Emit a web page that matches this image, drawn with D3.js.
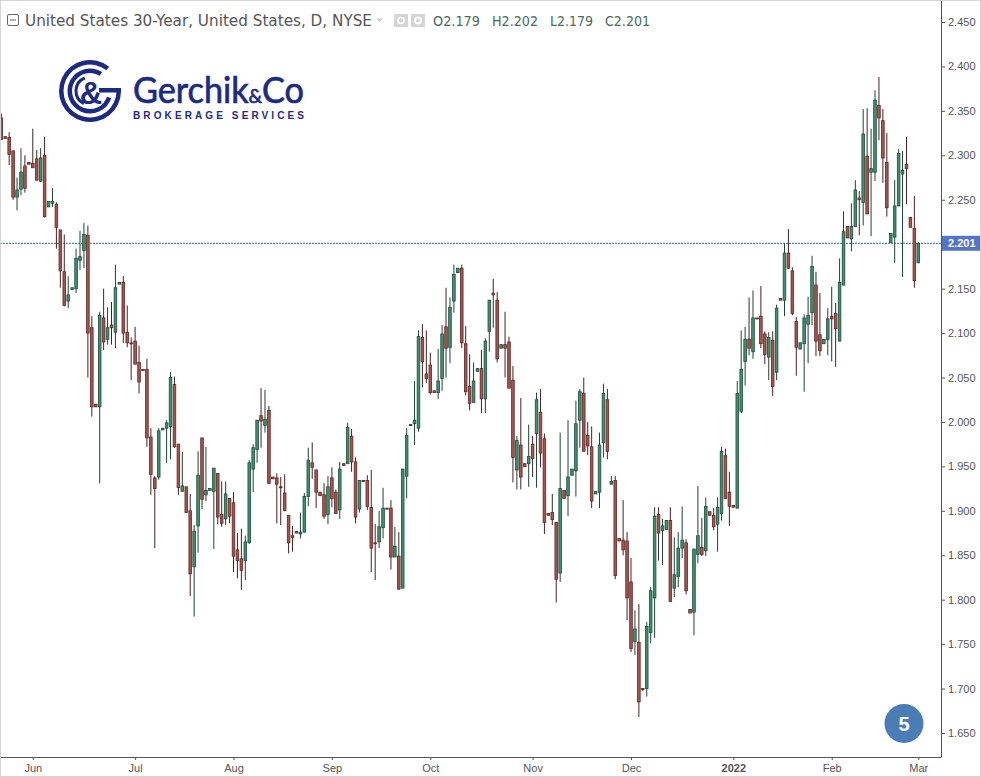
<!DOCTYPE html>
<html>
<head>
<meta charset="utf-8">
<script src="https://d3js.org/d3.v7.min.js"></script>
<style>
  html, body { margin: 0; padding: 0; background: #fff; }
  svg { display: block; }
  text { font-family: "Liberation Sans", Arial, sans-serif; }
</style>
</head>
<body>
<div id="chart"></div>
<script>
// daily candles
const opens = [
  2.342,2.321,2.320,2.305,2.253,2.262,2.288,2.292,2.291,2.296,
  2.271,2.300,2.242,2.246,2.245,2.216,2.169,2.136,2.149,2.150,
  2.182,2.193,2.210,2.106,2.020,2.017,2.117,2.093,2.109,2.101,
  2.155,2.157,2.101,2.089,2.091,2.067,2.059,2.059,1.983,1.937,
  1.938,1.991,1.993,1.995,2.042,1.975,1.922,1.927,1.900,1.837,
  1.883,1.982,1.918,1.923,1.922,1.942,1.896,1.891,1.914,1.909,
  1.856,1.846,1.844,1.864,1.947,1.969,2.007,1.996,2.013,1.938,
  1.937,1.927,1.920,1.895,1.872,1.877,1.874,1.876,1.916,1.954,
  1.946,1.921,1.918,1.896,1.937,1.921,1.901,1.953,1.953,1.984,
  1.955,1.902,1.934,1.934,1.904,1.864,1.865,1.881,1.903,1.903,
  1.848,1.849,1.813,1.939,1.997,1.998,1.993,2.095,2.054,2.064,
  2.035,2.033,2.049,2.107,2.084,2.136,2.168,2.173,2.088,2.040,
  2.022,2.057,2.060,2.026,2.102,2.145,2.137,2.083,2.087,2.090,
  2.047,1.946,1.974,1.953,1.953,1.975,1.987,2.011,1.981,1.897,
  1.898,1.887,1.830,1.923,1.917,1.940,1.945,2.002,2.032,1.985,
  1.972,1.919,1.921,1.977,2.025,1.930,1.934,1.869,1.867,1.866,
  1.820,1.753,1.752,1.700,1.700,1.763,1.802,1.896,1.878,1.879,
  1.889,1.813,1.826,1.858,1.864,1.789,1.786,1.851,1.859,1.855,
  1.899,1.895,1.885,1.897,1.962,1.921,1.906,1.903,2.012,2.068,
  2.093,2.079,2.117,2.119,2.099,2.073,2.092,2.056,2.139,2.137,
  2.190,2.170,2.113,2.082,2.088,2.110,2.123,2.154,2.098,2.088,
  2.093,2.119,2.122,2.091,2.154,2.220,2.206,2.220,2.252,2.247,
  2.299,2.281,2.281,2.356,2.339,2.292,2.202,2.208,2.243,2.279,
  2.290,2.230,2.218,2.179
];
const highs = [
  2.347,2.321,2.326,2.305,2.275,2.308,2.300,2.292,2.330,2.306,
  2.308,2.321,2.248,2.263,2.247,2.216,2.211,2.164,2.151,2.195,
  2.215,2.224,2.221,2.119,2.020,2.124,2.150,2.129,2.135,2.177,
  2.157,2.164,2.131,2.095,2.107,2.086,2.059,2.071,1.993,1.939,
  1.993,1.993,2.002,2.056,2.051,1.975,1.966,1.927,1.919,1.884,
  1.967,1.982,1.972,1.925,1.948,1.942,1.933,1.933,1.914,1.921,
  1.875,1.880,1.872,1.957,1.975,2.002,2.038,2.036,2.018,1.938,
  1.942,1.938,1.941,1.895,1.883,1.877,1.898,1.920,1.971,1.977,
  1.946,1.921,1.931,1.939,1.949,1.924,1.955,1.953,1.999,1.992,
  1.960,1.934,1.934,1.940,1.946,1.885,1.900,1.926,1.903,1.912,
  1.882,1.876,1.947,1.993,1.997,2.046,2.103,2.110,2.103,2.078,
  2.035,2.082,2.109,2.151,2.140,2.177,2.173,2.177,2.108,2.076,
  2.067,2.060,2.081,2.094,2.137,2.161,2.146,2.087,2.124,2.096,
  2.063,1.984,2.027,1.953,1.997,1.984,2.033,2.037,1.987,1.897,
  1.919,1.887,1.988,1.923,2.002,1.947,2.024,2.037,2.050,2.000,
  1.995,1.922,1.988,2.043,2.037,1.939,1.939,1.869,1.912,1.876,
  1.847,1.788,1.795,1.700,1.775,1.814,1.904,1.904,1.891,1.889,
  1.904,1.870,1.876,1.905,1.868,1.789,1.857,1.928,1.892,1.915,
  1.899,1.903,1.915,1.972,1.970,1.944,1.906,2.046,2.103,2.107,
  2.140,2.148,2.117,2.153,2.102,2.101,2.102,2.132,2.139,2.201,
  2.217,2.174,2.118,2.089,2.121,2.141,2.187,2.169,2.145,2.093,
  2.128,2.152,2.134,2.184,2.237,2.220,2.246,2.272,2.260,2.352,
  2.353,2.330,2.373,2.388,2.352,2.325,2.212,2.272,2.307,2.305,
  2.321,2.230,2.254,2.202
];
const lows = [
  2.318,2.319,2.289,2.250,2.238,2.255,2.258,2.290,2.286,2.272,
  2.270,2.230,2.242,2.242,2.195,2.151,2.130,2.128,2.149,2.145,
  2.171,2.173,2.050,2.006,2.017,1.931,2.081,2.087,2.087,2.083,
  2.155,2.089,2.084,2.047,2.065,2.032,2.058,1.972,1.918,1.858,
  1.935,1.991,1.954,1.958,1.971,1.918,1.922,1.898,1.804,1.781,
  1.853,1.902,1.911,1.923,1.857,1.885,1.882,1.884,1.886,1.831,
  1.824,1.811,1.822,1.863,1.921,1.954,1.971,1.988,1.930,1.936,
  1.886,1.884,1.900,1.852,1.854,1.875,1.869,1.876,1.905,1.936,
  1.903,1.917,1.891,1.885,1.904,1.897,1.891,1.951,1.953,1.944,
  1.886,1.898,1.933,1.901,1.831,1.822,1.858,1.869,1.902,1.834,
  1.848,1.811,1.813,1.914,1.996,1.974,1.989,2.039,2.044,2.031,
  2.033,2.026,2.035,2.050,2.066,2.123,2.168,2.083,2.030,2.013,
  2.022,2.057,2.010,2.010,2.079,2.106,2.067,2.083,2.050,2.038,
  1.932,1.924,1.924,1.950,1.927,1.938,1.926,1.949,1.874,1.895,
  1.884,1.797,1.820,1.914,1.894,1.940,1.916,1.971,1.967,1.963,
  1.903,1.919,1.903,1.960,1.958,1.930,1.823,1.866,1.850,1.777,
  1.741,1.738,1.668,1.697,1.691,1.751,1.757,1.844,1.839,1.879,
  1.798,1.803,1.814,1.847,1.806,1.785,1.760,1.841,1.849,1.849,
  1.895,1.878,1.854,1.889,1.914,1.883,1.904,1.903,2.010,2.041,
  2.075,2.071,2.116,2.083,2.065,2.047,2.029,2.047,2.137,2.119,
  2.172,2.120,2.052,2.082,2.034,2.066,2.109,2.074,2.074,2.088,
  2.075,2.068,2.062,2.091,2.154,2.207,2.192,2.220,2.210,2.221,
  2.234,2.209,2.271,2.317,2.269,2.231,2.202,2.179,2.243,2.163,
  2.245,2.219,2.151,2.179
];
const closes = [
  2.318,2.319,2.301,2.253,2.261,2.281,2.263,2.290,2.286,2.272,
  2.297,2.231,2.248,2.248,2.219,2.170,2.131,2.143,2.151,2.184,
  2.186,2.211,2.100,2.017,2.017,2.120,2.090,2.106,2.106,2.151,
  2.157,2.100,2.089,2.088,2.065,2.045,2.058,1.982,1.941,1.925,
  1.990,1.993,1.999,2.050,1.972,1.926,1.928,1.898,1.829,1.877,
  1.940,1.913,1.923,1.925,1.948,1.893,1.886,1.919,1.894,1.849,
  1.844,1.833,1.865,1.954,1.971,2.002,2.001,2.003,1.931,1.936,
  1.930,1.926,1.900,1.864,1.870,1.875,1.876,1.916,1.957,1.949,
  1.921,1.917,1.894,1.927,1.914,1.897,1.947,1.951,1.994,1.955,
  1.893,1.934,1.933,1.905,1.858,1.863,1.882,1.903,1.902,1.848,
  1.860,1.812,1.947,1.985,1.996,2.002,2.096,2.068,2.049,2.033,
  2.033,2.046,2.099,2.083,2.129,2.166,2.173,2.089,2.034,2.021,
  2.046,2.060,2.026,2.091,2.137,2.143,2.071,2.087,2.083,2.038,
  1.960,1.979,1.938,1.950,1.961,1.959,2.025,1.965,1.887,1.895,
  1.890,1.823,1.925,1.914,1.938,1.947,1.998,2.034,1.967,1.973,
  1.911,1.922,1.974,2.032,1.967,1.933,1.827,1.866,1.856,1.802,
  1.745,1.767,1.685,1.699,1.770,1.810,1.894,1.875,1.883,1.889,
  1.798,1.828,1.858,1.867,1.810,1.785,1.857,1.872,1.851,1.905,
  1.895,1.882,1.904,1.967,1.914,1.905,1.904,2.032,2.059,2.093,
  2.083,2.117,2.116,2.088,2.076,2.095,2.040,2.128,2.137,2.190,
  2.173,2.122,2.084,2.089,2.117,2.120,2.175,2.091,2.080,2.093,
  2.116,2.116,2.105,2.157,2.214,2.207,2.220,2.261,2.250,2.324,
  2.234,2.285,2.362,2.342,2.297,2.241,2.212,2.243,2.302,2.283,
  2.285,2.219,2.159,2.201
];

// axis labels
const monthLabels = ["Jun", "Jul", "Aug", "Sep", "Oct", "Nov", "Dec", "2022", "Feb", "Mar"];
const monthIndex = [8, 34, 59, 84, 109, 135, 160, 186, 211, 233];
const priceTicks = [1.65, 1.70, 1.75, 1.80, 1.85, 1.90, 1.95, 2.00, 2.05, 2.10, 2.15, 2.20, 2.25, 2.30, 2.35, 2.40, 2.45];
const lastPrice = 2.201;
const legend = [["O", "2.179", 433, 47], ["H", "2.202", 492, 46], ["L", "2.179", 550, 43], ["C", "2.201", 605, 45]];

const width = 981, height = 777;
const plotRight = 941, plotBottom = 757;

const svg = d3.select("#chart").append("svg")
    .attr("width", width)
    .attr("height", height);

const x = d3.scaleLinear().domain([0, opens.length - 1]).range([1.3, 918.3]);
const y = d3.scaleLinear().domain([1.65, 2.45]).range([733, 22]);

svg.append("rect").attr("width", width).attr("height", height).attr("fill", "#fff");

// logo
const logoBlue = "#1d2a84";
const logo = svg.append("g").attr("transform", "translate(90,91)");
const arc = d3.arc();
// rings of the mark, open towards the top right
[[31, 26.5, 1.57, 6.95], [22.5, 18, 1.9, 6.85], [15.5, 12.5, 3.6, 5.9]].forEach(r => {
    logo.append("path")
        .attr("d", arc({innerRadius: r[1], outerRadius: r[0], startAngle: r[2], endAngle: r[3]}))
        .attr("fill", logoBlue);
});
logo.append("rect").attr("x", 9).attr("y", -3).attr("width", 22).attr("height", 4.5).attr("fill", logoBlue);
logo.append("text").attr("x", 1).attr("y", 13)
    .attr("text-anchor", "middle")
    .attr("font-size", 31).attr("font-weight", "bold")
    .attr("fill", logoBlue).text("&");

// one text element, so the small ampersand sits inside the word
const logoName = svg.append("text").attr("x", 133).attr("y", 103)
    .attr("font-size", 36)
    .style("font-family", "Lato, sans-serif")
    .attr("fill", logoBlue).attr("stroke", logoBlue).attr("stroke-width", 0.7)
    .attr("textLength", 171).attr("lengthAdjust", "spacingAndGlyphs");
logoName.append("tspan").text("Gerchik");
logoName.append("tspan").attr("font-size", 20).text("&");
logoName.append("tspan").text("Co");
svg.append("text").attr("x", 133).attr("y", 118.5)
    .attr("font-size", 10).attr("font-weight", "bold")
    .attr("fill", logoBlue).attr("textLength", 171)
    .text("BROKERAGE SERVICES");

// last price line
svg.append("line")
    .attr("x1", 0).attr("x2", plotRight)
    .attr("y1", y(lastPrice)).attr("y2", y(lastPrice))
    .attr("stroke", "#3a6f78")
    .attr("stroke-dasharray", "2,1");

// candles
const candles = svg.append("g").selectAll("g")
    .data(opens.map((o, i) => ({i: i, o: o, h: highs[i], l: lows[i], c: closes[i]})))
    .join("g");

candles.append("line")
    .attr("x1", d => x(d.i)).attr("x2", d => x(d.i))
    .attr("y1", d => y(d.h)).attr("y2", d => y(d.l))
    .attr("stroke", d => d.c >= d.o ? "#1e4436" : "#452222");

candles.append("rect")
    .attr("x", d => x(d.i) - 1.3)
    .attr("width", 2.6)
    .attr("y", d => y(Math.max(d.o, d.c)))
    .attr("height", d => Math.max(y(Math.min(d.o, d.c)) - y(Math.max(d.o, d.c)), 1))
    .attr("fill", d => d.c >= d.o ? "#3f9270" : "#a5564f")
    .attr("stroke", d => d.c >= d.o ? "#1e4a3a" : "#5c2626")
    .attr("stroke-width", 0.8);

// axes
const yAxis = svg.append("g")
    .attr("transform", `translate(${plotRight},0)`)
    .call(d3.axisRight(y).tickValues(priceTicks).tickFormat(d3.format(".3f")).tickSize(4).tickPadding(3));
const xAxis = svg.append("g")
    .attr("transform", `translate(0,${plotBottom})`)
    .call(d3.axisBottom(x).tickValues(monthIndex).tickFormat((d, i) => monthLabels[i]).tickSize(3).tickPadding(4));
[yAxis, xAxis].forEach(a => {
    a.select(".domain").remove();
    a.selectAll("text").attr("font-size", 11).attr("fill", "#555").attr("font-family", '"Liberation Sans", Arial, sans-serif');
    a.selectAll("line").attr("stroke", "#555");
});
xAxis.selectAll("text").filter((d, i) => monthLabels[i] === "2022").attr("font-weight", "bold");

svg.append("line").attr("x1", plotRight + 0.5).attr("x2", plotRight + 0.5).attr("y1", 0).attr("y2", plotBottom + 0.5).attr("stroke", "#555");
svg.append("line").attr("x1", 0).attr("x2", plotRight).attr("y1", plotBottom + 0.5).attr("y2", plotBottom + 0.5).attr("stroke", "#555");

// price tag
svg.append("rect").attr("x", plotRight + 1).attr("y", y(lastPrice) - 7.5).attr("width", 38).attr("height", 15).attr("fill", "#5673c9");
svg.append("text").attr("x", 948).attr("y", y(lastPrice) + 4)
    .attr("font-size", 11).attr("font-weight", "bold").attr("fill", "#fff")
    .text(d3.format(".3f")(lastPrice));

// title row
svg.append("rect").attr("x", 7.5).attr("y", 14.5).attr("width", 11).attr("height", 11).attr("rx", 1.5).attr("fill", "none").attr("stroke", "#666");
svg.append("line").attr("x1", 10).attr("x2", 16).attr("y1", 20).attr("y2", 20).attr("stroke", "#666");
svg.append("text").attr("x", 25).attr("y", 25.5)
    .attr("font-size", 15.5).attr("fill", "#555")
    .style("font-family", "'DejaVu Sans', sans-serif")
    .attr("textLength", 347).attr("lengthAdjust", "spacingAndGlyphs")
    .text("United States 30-Year, United States, D, NYSE");
svg.append("path").attr("d", "M376,18.5h7l-3.5,3.5z").attr("fill", "#ccc");
svg.append("rect").attr("x", 394).attr("y", 14).attr("width", 14).attr("height", 13).attr("fill", "#d5d5d5");
svg.append("circle").attr("cx", 401).attr("cy", 20.5).attr("r", 3).attr("fill", "none").attr("stroke", "#fff").attr("stroke-width", 1.5);
svg.append("rect").attr("x", 411).attr("y", 14).attr("width", 14).attr("height", 13).attr("fill", "#d5d5d5");
svg.append("circle").attr("cx", 418).attr("cy", 20.5).attr("r", 3).attr("fill", "none").attr("stroke", "#fff").attr("stroke-width", 2);

svg.append("g").selectAll("text")
    .data(legend)
    .join("text")
    .attr("x", d => d[2]).attr("y", 25.5)
    .attr("font-size", 14).attr("fill", "#4a6b5e")
    .style("font-family", "'DejaVu Sans', sans-serif")
    .attr("textLength", d => d[3]).attr("lengthAdjust", "spacingAndGlyphs")
    .text(d => d[0] + d[1]);

// slide number badge
svg.append("circle").attr("cx", 904).attr("cy", 723.5).attr("r", 19.5).attr("fill", "#4a7db5");
svg.append("text").attr("x", 904).attr("y", 730.5)
    .attr("text-anchor", "middle").attr("font-size", 20).attr("font-weight", "bold").attr("fill", "#fff")
    .text("5");

// frame of the screenshot
svg.append("rect").attr("x", 0.5).attr("y", 0.5).attr("width", width - 1).attr("height", height - 1)
    .attr("fill", "none").attr("stroke", "#d4d4d4");
</script>
</body>
</html>
